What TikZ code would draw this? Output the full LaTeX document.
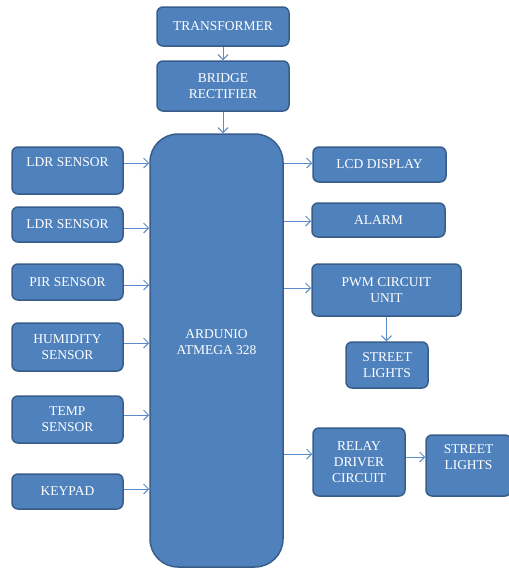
\documentclass[tikz,border=0pt]{standalone}
\usepackage{fontspec}
\setmainfont{Liberation Serif}
\newfontfamily\tnr{Liberation Serif}
\usetikzlibrary{arrows.meta}
\definecolor{boxfill}{HTML}{4F81BD}
\definecolor{boxline}{HTML}{385D8A}
\definecolor{arrcol}{HTML}{5B8BC8}
\tikzset{
  blk/.style={draw=boxline, line width=1.5pt, fill=boxfill, rounded corners=6pt,
    text=white, align=center, inner sep=0pt,
    font=\tnr\fontsize{13.5}{16}\selectfont},
  arr/.style={draw=arrcol, line width=1pt, -{Straight Barb[length=5pt,width=10pt]}}
}
\begin{document}
\begin{tikzpicture}[x=1pt,y=-1pt]
\useasboundingbox (0,0) rectangle (509,568);
% top
\node[blk, minimum width=132pt, minimum height=39pt] (tr) at (223,26.5) {TRANSFORMER};
\node[blk, minimum width=132pt, minimum height=50pt] (br) at (223,86) {BRIDGE\\RECTIFIER};
% arduino
\node[blk, rounded corners=28pt, minimum width=133pt, minimum height=433pt] (ard) at (216.5,350.5) {ARDUNIO\\ATMEGA 328\\\mbox{}};
% left
\node[blk, minimum width=111pt, minimum height=47pt] (ldra) at (67.5,170.5) {LDR SENSOR\\\mbox{}};
\node[blk, minimum width=111pt, minimum height=35pt] (ldrb) at (67.5,224.5) {LDR SENSOR};
\node[blk, minimum width=111pt, minimum height=36pt] (pir) at (67.5,282) {PIR SENSOR};
\node[blk, minimum width=111pt, minimum height=48pt] (hum) at (67.5,347) {HUMIDITY\\SENSOR};
\node[blk, minimum width=111pt, minimum height=47pt] (temp) at (67.5,419.5) {TEMP\\SENSOR};
\node[blk, minimum width=111pt, minimum height=35pt] (key) at (67.5,491.5) {KEYPAD};
% right
\node[blk, minimum width=133pt, minimum height=35pt] (lcd) at (379.5,164.5) {LCD DISPLAY};
\node[blk, minimum width=133pt, minimum height=34pt] (alarm) at (378.5,220) {ALARM};
\node[blk, minimum width=149pt, minimum height=52pt] (pwm) at (386.5,290) {PWM CIRCUIT\\UNIT};
\node[blk, minimum width=82pt, minimum height=46pt] (sla) at (387,365) {STREET\\LIGHTS};
\node[blk, minimum width=92pt, minimum height=68pt] (relay) at (359,462) {RELAY\\DRIVER\\CIRCUIT};
\node[blk, minimum width=85pt, minimum height=61pt] (slb) at (468.5,465.5) {STREET\\LIGHTS\\\mbox{}};
% connector start points
\coordinate (c1) at ([yshift=7.5pt]ldra.east);
\coordinate (c2) at ([yshift=-3.5pt]ldrb.east);
\coordinate (c3) at ([yshift=-3pt]pir.east);
\coordinate (c4) at ([yshift=4pt]hum.east);
\coordinate (c5) at ([yshift=4.5pt]temp.east);
\coordinate (c6) at ([yshift=2.5pt]key.east);
\coordinate (d1) at ([yshift=1.5pt]lcd.west);
\coordinate (d2) at ([yshift=-1pt]alarm.west);
\coordinate (d3) at ([yshift=2pt]pwm.west);
\coordinate (d4) at ([yshift=8pt]relay.west);
\coordinate (e1) at ([yshift=8.5pt]slb.west);
% connectors
\draw[arr] (tr.south) -- (br.north);
\draw[arr] (br.south) -- (br.south |- ard.north);
\foreach \c in {c1,c2,c3,c4,c5,c6}{\draw[arr] (\c) -- (\c -| ard.west);}
\foreach \d in {d1,d2,d3,d4}{\draw[arr] (\d -| ard.east) -- (\d);}
\draw[arr] (e1 -| relay.east) -- (e1);
\draw[arr] (pwm.south) -- (pwm.south |- sla.north);
\end{tikzpicture}
\end{document}
